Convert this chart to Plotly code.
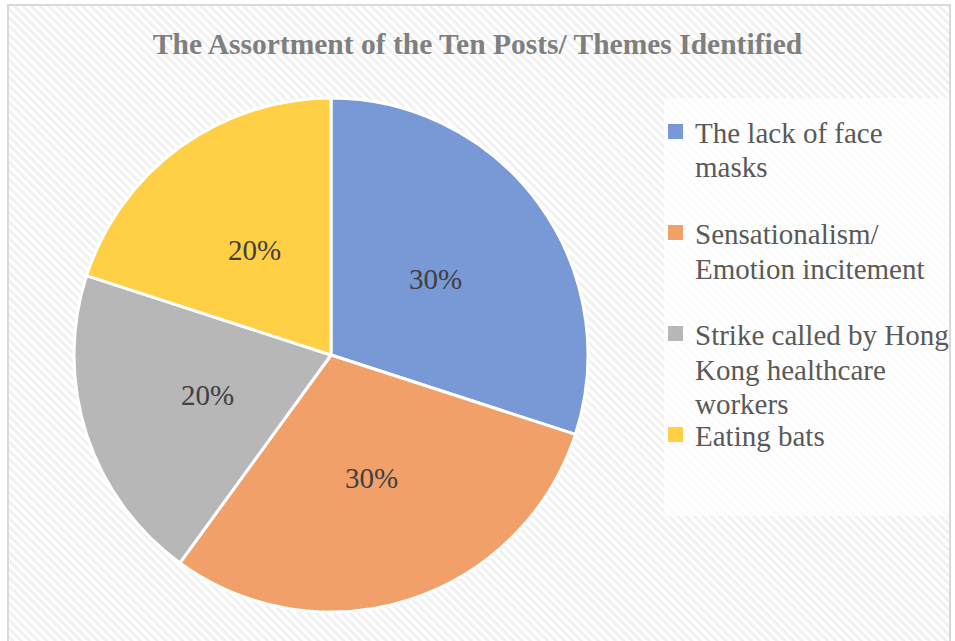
import math
import plotly.graph_objects as go

# ---- data ----
categories = [
    "The lack of face masks",
    "Sensationalism/ Emotion incitement",
    "Strike called by Hong Kong healthcare workers",
    "Eating bats",
]
legend_lines = [
    ["The lack of face", "masks"],
    ["Sensationalism/", "Emotion incitement"],
    ["Strike called by Hong", "Kong healthcare", "workers"],
    ["Eating bats"],
]
values = [30, 30, 20, 20]
colors = ["#7898d6", "#f1a069", "#b7b7b7", "#ffcf45"]
title_text = "The Assortment of the Ten Posts/ Themes Identified"

W, H = 955, 641
SERIF = "Liberation Serif, Times New Roman, serif"

# pie geometry (pixels)
CX, CY, R = 331, 355, 257


def px(x):
    return x / W


def py(y):
    return 1 - y / H


fig = go.Figure()

# hatched chart-area background
fig.add_trace(go.Scatter(
    x=[px(8), px(950), px(950), px(8), px(8)],
    y=[py(5), py(5), py(660), py(660), py(5)],
    fill="toself", mode="none", fillcolor="white",
    fillpattern=dict(shape="\\", fgcolor="#e2e2e2", bgcolor="white", size=6, solidity=0.45),
    showlegend=False, hoverinfo="skip",
))

fig.add_trace(go.Pie(
    labels=categories, values=values, sort=False,
    direction="clockwise", rotation=0,
    marker=dict(colors=colors, line=dict(color="white", width=3)),
    textinfo="none",
    domain=dict(x=[px(CX - R), px(CX + R)], y=[py(CY + R), py(CY - R)]),
    showlegend=False, hoverinfo="label+percent",
))

shapes = [
    # legend box
    dict(type="rect", xref="paper", yref="paper", layer="above",
         x0=px(664), x1=px(950), y0=py(516), y1=py(98),
         fillcolor="rgba(255,255,255,0.72)", line=dict(width=0)),
    # chart border
    dict(type="rect", xref="paper", yref="paper", layer="above",
         x0=px(8), x1=px(950), y0=-0.05, y1=py(5),
         fillcolor="rgba(0,0,0,0)", line=dict(color="#d9d9d9", width=2)),
]
annotations = []

# data labels inside slices, placed at half radius along each slice's mid-angle
total = sum(values)
cum = 0.0
for v in values:
    mid = (cum + v / 2) / total
    ang = math.pi / 2 - 2 * math.pi * mid
    lx = CX + 0.505 * R * math.cos(ang)
    ly = CY - 0.505 * R * math.sin(ang)
    annotations.append(dict(
        xref="paper", yref="paper", x=px(lx), y=py(ly),
        xanchor="center", yanchor="middle", showarrow=False,
        text=f"{round(100 * v / total)}%",
        font=dict(family=SERIF, size=29, color="#404040"),
    ))
    cum += v

# legend
item_top = 133
item_step = 101
line_step = 34.5
for i, lines in enumerate(legend_lines):
    yc = item_top + item_step * i
    shapes.append(dict(type="rect", xref="paper", yref="paper", layer="above",
                       x0=px(668), x1=px(683), y0=py(yc + 6), y1=py(yc - 9),
                       fillcolor=colors[i], line=dict(width=0)))
    for j, t in enumerate(lines):
        annotations.append(dict(
            xref="paper", yref="paper", x=px(693), y=py(yc + line_step * j),
            xanchor="left", yanchor="middle", showarrow=False, text=t,
            font=dict(family=SERIF, size=29, color="#595959"),
        ))

fig.update_layout(
    width=W, height=H,
    margin=dict(l=0, r=0, t=0, b=0),
    paper_bgcolor="white", plot_bgcolor="white",
    xaxis=dict(visible=False, range=[0, 1], domain=[0, 1], fixedrange=True),
    yaxis=dict(visible=False, range=[0, 1], domain=[0, 1], fixedrange=True),
    title=dict(text=title_text, x=0.5, xanchor="center", y=py(44), yanchor="middle",
               font=dict(family=SERIF, size=29.5, color="#7f7f7f", weight="bold")),
    shapes=shapes, annotations=annotations, showlegend=False,
)

fig.write_html("out.html")
